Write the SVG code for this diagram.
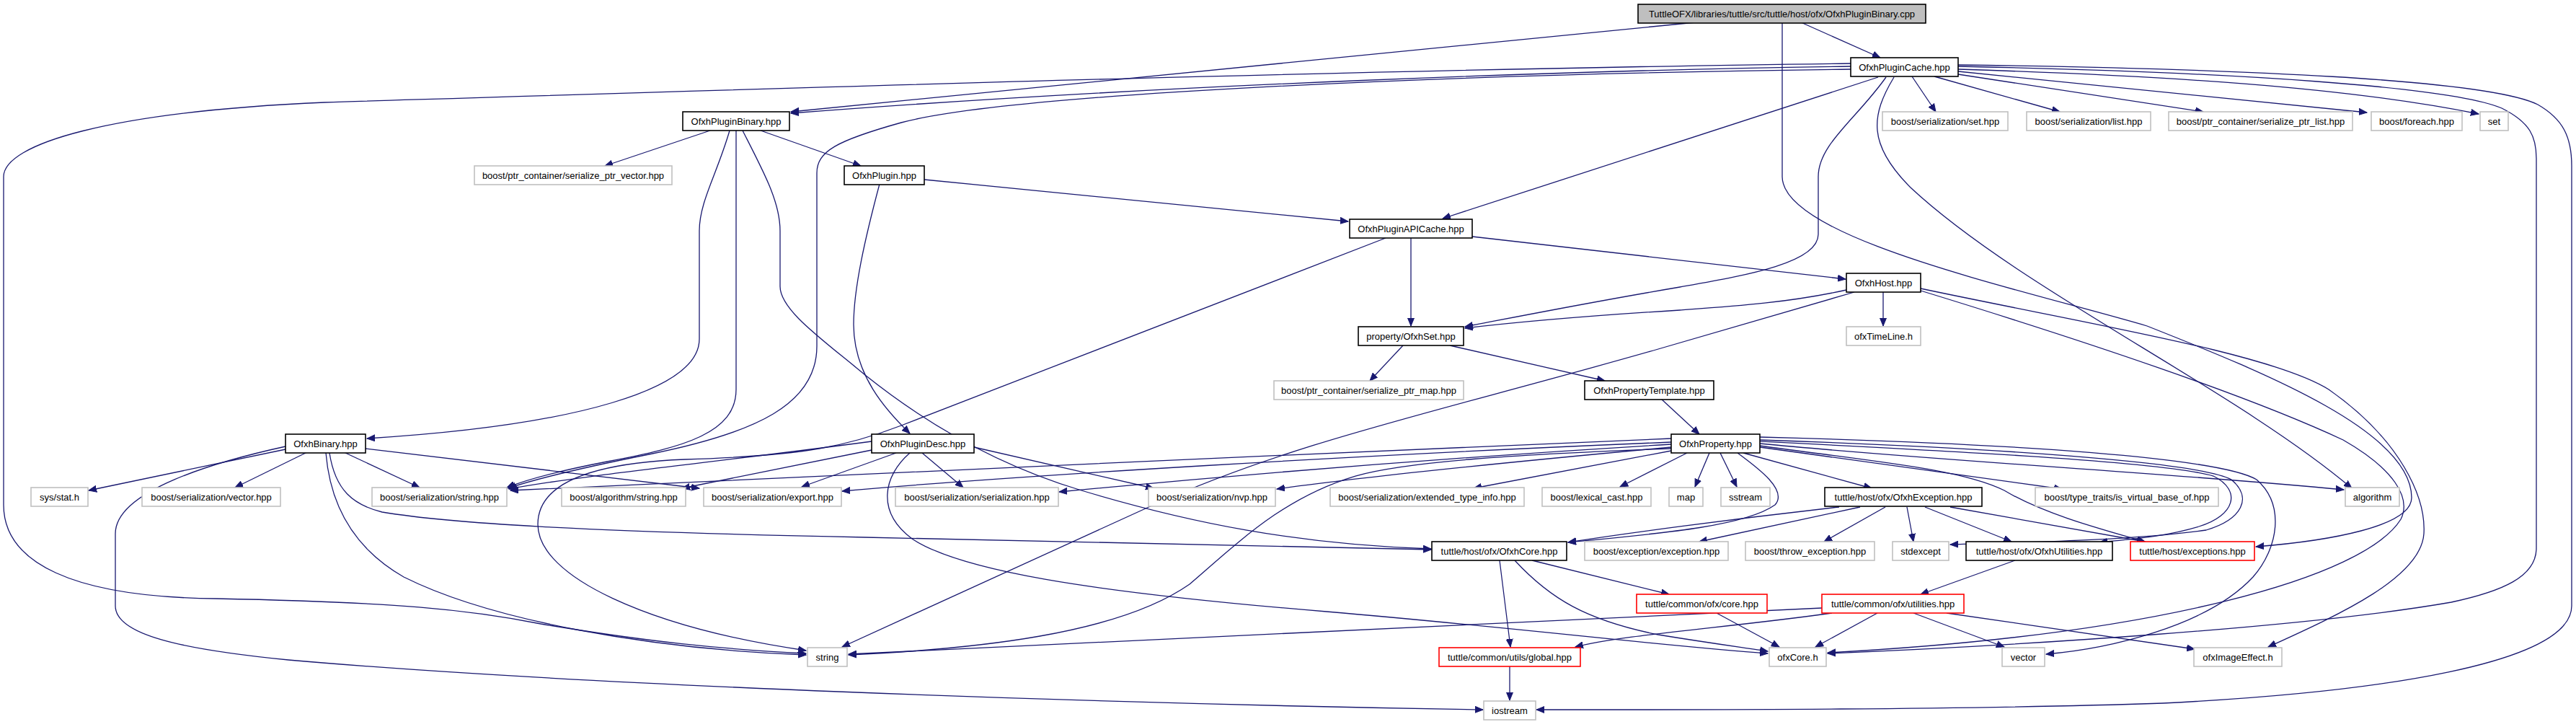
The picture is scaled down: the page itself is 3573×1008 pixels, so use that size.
<svg xmlns="http://www.w3.org/2000/svg" width="3573" height="1008" viewBox="0 0 3573 1008">
<style>
rect{stroke-width:1.6}
.k rect{fill:#fff;stroke:#000}
.g rect{fill:#fff;stroke:#c0c0c0}
.r rect{fill:#fff;stroke:#ff0000}
.root rect{fill:#bfbfbf;stroke:#000}
text{font-family:"Liberation Sans",Arial,sans-serif;font-size:13px;fill:#000;text-anchor:middle}
#edges path{fill:none;stroke:#191970;stroke-width:1.3;marker-end:url(#a)}
</style>
<defs>
<marker id="a" markerUnits="userSpaceOnUse" markerWidth="12" markerHeight="10" refX="11" refY="5" orient="auto">
<path d="M0,0.5 L11,5 L0,9.5 z" fill="#191970" stroke="#191970" stroke-width="1"/>
</marker>
</defs>
<rect width="3573" height="1008" fill="#fff"/>
<g id="edges">
<path d="M2352,31 L1097,155"/>
<path d="M2498,31 L2608,80"/>
<path d="M2472,31 L2472,245 C2472,330 2800,400 2978,452 C3150,520 3345,600 3345,690 C3345,730 3230,750 3129,758"/>
<path d="M2567,92 C2200,97 1600,118 1097,157"/>
<path d="M2567,88 C1900,96 1000,125 450,142 C150,155 5,200 5,245 L5,700 C5,780 100,828 300,830 C550,835 650,845 750,865 C900,890 1000,900 1118,906"/>
<path d="M2567,96 C2000,103 1400,130 1250,170 C1160,195 1133,210 1133,240 L1133,480 C1133,560 1050,600 900,630 C800,650 740,665 705,677"/>
<path d="M2605,107 L2001,303"/>
<path d="M2616,107 C2575,165 2522,200 2522,245 L2522,325 C2522,365 2420,382 2330,398 C2200,420 2100,440 2032,453"/>
<path d="M2652,106 L2685,155"/>
<path d="M2683,106 L2857,155"/>
<path d="M2716,103 L3056,155"/>
<path d="M2716,99 L3283,156"/>
<path d="M2716,96 C3000,105 3250,120 3438,158"/>
<path d="M2627,107 C2595,160 2590,200 2650,260 C2800,400 3100,540 3262,677"/>
<path d="M2716,92 C3100,100 3400,120 3470,150 C3510,170 3518,190 3518,220 L3518,760 C3518,800 3470,820 3400,835 C3200,870 2800,895 2535,906"/>
<path d="M2716,90 C3100,95 3450,110 3520,145 C3555,165 3567,190 3567,230 L3567,840 C3567,920 3300,960 3000,975 C2700,985 2300,984 2131,984"/>
<path d="M985,181 L839,230"/>
<path d="M1055,181 L1194,230"/>
<path d="M1012,181 C995,240 970,280 970,320 L970,470 C970,540 800,590 509,608"/>
<path d="M1021,181 L1021,540 C1021,600 950,620 842,640 C780,652 730,665 703,676"/>
<path d="M1030,181 C1060,240 1082,280 1082,320 L1082,397 C1082,430 1140,470 1200,520 C1300,600 1400,650 1500,680 C1650,725 1800,755 1985,761"/>
<path d="M1282,249 L1870,307"/>
<path d="M1220,255 C1200,330 1184,400 1184,450 C1184,520 1230,570 1262,601"/>
<path d="M1957,330 L1957,452"/>
<path d="M2042,328 L2560,387"/>
<path d="M1922,330 L1250,590 C1180,617 1120,632 950,637 C820,642 746,670 746,727 C746,800 900,870 1118,902"/>
<path d="M2561,402 C2480,420 2400,425 2330,430 C2200,438 2100,447 2032,455"/>
<path d="M2612,405 L2612,452"/>
<path d="M2572,405 L2300,484 C2000,570 1800,610 1600,700 C1400,790 1250,860 1168,897"/>
<path d="M2664,403 C2850,460 3100,540 3250,610 C3320,650 3345,690 3330,720 C3280,800 3000,880 2535,905"/>
<path d="M2664,400 C2900,450 3150,490 3230,540 C3330,610 3365,690 3362,740 C3358,800 3250,850 3146,897"/>
<path d="M1946,479 L1900,528"/>
<path d="M2011,479 L2226,528"/>
<path d="M2304,553 L2357,602"/>
<path d="M396,623 L123,680"/>
<path d="M426,627 L326,676"/>
<path d="M477,627 L582,676"/>
<path d="M507,622 L970,677"/>
<path d="M452,628 C458,700 490,760 560,800 C680,860 900,900 1118,908"/>
<path d="M457,628 C465,680 490,700 530,710 C620,725 800,737 1200,745 C1500,752 1800,758 1985,762"/>
<path d="M396,619 C300,640 160,680 160,740 L160,840 C160,880 250,900 400,915 C800,950 1500,975 2057,984"/>
<path d="M1209,612 C1000,640 800,660 706,678"/>
<path d="M1209,624 L946,677"/>
<path d="M1243,628 L1112,675"/>
<path d="M1279,628 L1336,676"/>
<path d="M1351,620 L1600,677"/>
<path d="M1262,628 C1225,660 1215,710 1265,747 C1330,790 1500,820 1840,848 C2100,870 2300,895 2452,906"/>
<path d="M2318,608 C1800,630 1000,665 708,680"/>
<path d="M2318,613 C1900,630 1400,660 1168,681"/>
<path d="M2318,616 C2000,635 1700,660 1469,682"/>
<path d="M2318,620 C2100,640 1900,660 1771,678"/>
<path d="M2318,622 C2100,630 1950,640 1880,660 C1780,690 1720,750 1650,810 C1550,880 1350,900 1177,908"/>
<path d="M2318,625 L2044,677"/>
<path d="M2340,628 L2247,675"/>
<path d="M2371,628 L2351,675"/>
<path d="M2386,628 L2409,675"/>
<path d="M2418,628 L2596,677"/>
<path d="M2441,620 L2860,678"/>
<path d="M2441,615 C2700,640 3000,655 3251,679"/>
<path d="M2410,628 C2440,650 2480,680 2462,700 C2420,730 2300,740 2175,752"/>
<path d="M2441,618 C2600,640 2720,650 2780,680 C2830,710 2900,730 2975,751"/>
<path d="M2441,612 C2700,625 3000,640 3070,660 C3110,680 3100,715 3050,730 C3000,745 2950,748 2912,752"/>
<path d="M2441,610 C2750,620 3050,640 3095,665 C3125,690 3110,720 3060,735 C2950,750 2800,752 2705,755"/>
<path d="M2441,606 C2800,615 3080,635 3130,665 C3170,700 3160,760 3125,800 C3060,870 2920,900 2838,907"/>
<path d="M2551,703 C2400,720 2250,740 2175,752"/>
<path d="M2580,703 L2357,751"/>
<path d="M2615,703 L2530,751"/>
<path d="M2645,703 L2654,751"/>
<path d="M2670,703 L2790,751"/>
<path d="M2705,703 L2975,751"/>
<path d="M2080,777 L2095,897"/>
<path d="M2101,777 C2150,830 2200,860 2300,880 C2380,893 2420,898 2452,903"/>
<path d="M2125,777 L2315,824"/>
<path d="M2381,850 L2468,897"/>
<path d="M2795,777 L2664,824"/>
<path d="M2527,843 C2000,870 1500,895 1177,907"/>
<path d="M2541,850 C2400,870 2250,880 2185,897"/>
<path d="M2604,850 L2518,897"/>
<path d="M2654,850 L2780,897"/>
<path d="M2700,850 L3044,900"/>
<path d="M2094,924 L2094,971"/>
</g>
<g id="n0" class="root"><rect x="2272" y="6" width="399" height="26"/><text x="2471.5" y="23.5">TuttleOFX/libraries/tuttle/src/tuttle/host/ofx/OfxhPluginBinary.cpp</text></g>
<g id="n1" class="k"><rect x="2567" y="80" width="149" height="26"/><text x="2641.5" y="97.5">OfxhPluginCache.hpp</text></g>
<g id="n2" class="k"><rect x="947" y="155" width="148" height="26"/><text x="1021" y="172.5">OfxhPluginBinary.hpp</text></g>
<g id="n3" class="g"><rect x="2611" y="155" width="174" height="26"/><text x="2698" y="172.5">boost/serialization/set.hpp</text></g>
<g id="n4" class="g"><rect x="2811" y="155" width="172" height="26"/><text x="2897" y="172.5">boost/serialization/list.hpp</text></g>
<g id="n5" class="g"><rect x="3008" y="155" width="255" height="26"/><text x="3135.5" y="172.5">boost/ptr_container/serialize_ptr_list.hpp</text></g>
<g id="n6" class="g"><rect x="3289" y="155" width="126" height="26"/><text x="3352" y="172.5">boost/foreach.hpp</text></g>
<g id="n7" class="g"><rect x="3440" y="155" width="39" height="26"/><text x="3459.5" y="172.5">set</text></g>
<g id="n8" class="g"><rect x="658" y="230" width="274" height="26"/><text x="795" y="247.5">boost/ptr_container/serialize_ptr_vector.hpp</text></g>
<g id="n9" class="k"><rect x="1171" y="230" width="111" height="26"/><text x="1226.5" y="247.5">OfxhPlugin.hpp</text></g>
<g id="n10" class="k"><rect x="1872" y="304" width="170" height="26"/><text x="1957" y="321.5">OfxhPluginAPICache.hpp</text></g>
<g id="n11" class="k"><rect x="2561" y="379" width="103" height="26"/><text x="2612.5" y="396.5">OfxhHost.hpp</text></g>
<g id="n12" class="k"><rect x="1884" y="453" width="146" height="26"/><text x="1957" y="470.5">property/OfxhSet.hpp</text></g>
<g id="n13" class="g"><rect x="2561" y="453" width="103" height="26"/><text x="2612.5" y="470.5">ofxTimeLine.h</text></g>
<g id="n14" class="g"><rect x="1767" y="528" width="263" height="26"/><text x="1898.5" y="545.5">boost/ptr_container/serialize_ptr_map.hpp</text></g>
<g id="n15" class="k"><rect x="2198" y="528" width="179" height="26"/><text x="2287.5" y="545.5">OfxhPropertyTemplate.hpp</text></g>
<g id="n16" class="k"><rect x="396" y="602" width="111" height="26"/><text x="451.5" y="619.5">OfxhBinary.hpp</text></g>
<g id="n17" class="k"><rect x="1209" y="602" width="142" height="26"/><text x="1280" y="619.5">OfxhPluginDesc.hpp</text></g>
<g id="n18" class="k"><rect x="2318" y="602" width="123" height="26"/><text x="2379.5" y="619.5">OfxhProperty.hpp</text></g>
<g id="n19" class="g"><rect x="43" y="676" width="79" height="26"/><text x="82.5" y="693.5">sys/stat.h</text></g>
<g id="n20" class="g"><rect x="197" y="676" width="192" height="26"/><text x="293" y="693.5">boost/serialization/vector.hpp</text></g>
<g id="n21" class="g"><rect x="516" y="676" width="187" height="26"/><text x="609.5" y="693.5">boost/serialization/string.hpp</text></g>
<g id="n22" class="g"><rect x="779" y="676" width="172" height="26"/><text x="865" y="693.5">boost/algorithm/string.hpp</text></g>
<g id="n23" class="g"><rect x="976" y="676" width="191" height="26"/><text x="1071.5" y="693.5">boost/serialization/export.hpp</text></g>
<g id="n24" class="g"><rect x="1242" y="676" width="226" height="26"/><text x="1355" y="693.5">boost/serialization/serialization.hpp</text></g>
<g id="n25" class="g"><rect x="1593" y="676" width="176" height="26"/><text x="1681" y="693.5">boost/serialization/nvp.hpp</text></g>
<g id="n26" class="g"><rect x="1845" y="676" width="269" height="26"/><text x="1979.5" y="693.5">boost/serialization/extended_type_info.hpp</text></g>
<g id="n27" class="g"><rect x="2139" y="676" width="151" height="26"/><text x="2214.5" y="693.5">boost/lexical_cast.hpp</text></g>
<g id="n28" class="g"><rect x="2315" y="676" width="47" height="26"/><text x="2338.5" y="693.5">map</text></g>
<g id="n29" class="g"><rect x="2387" y="676" width="68" height="26"/><text x="2421" y="693.5">sstream</text></g>
<g id="n30" class="k"><rect x="2531" y="676" width="218" height="26"/><text x="2640" y="693.5">tuttle/host/ofx/OfxhException.hpp</text></g>
<g id="n31" class="g"><rect x="2823" y="676" width="254" height="26"/><text x="2950" y="693.5">boost/type_traits/is_virtual_base_of.hpp</text></g>
<g id="n32" class="g"><rect x="3253" y="676" width="75" height="26"/><text x="3290.5" y="693.5">algorithm</text></g>
<g id="n33" class="k"><rect x="1986" y="751" width="187" height="26"/><text x="2079.5" y="768.5">tuttle/host/ofx/OfxhCore.hpp</text></g>
<g id="n34" class="g"><rect x="2198" y="751" width="199" height="26"/><text x="2297.5" y="768.5">boost/exception/exception.hpp</text></g>
<g id="n35" class="g"><rect x="2421" y="751" width="179" height="26"/><text x="2510.5" y="768.5">boost/throw_exception.hpp</text></g>
<g id="n36" class="g"><rect x="2625" y="751" width="78" height="26"/><text x="2664" y="768.5">stdexcept</text></g>
<g id="n37" class="k"><rect x="2727" y="751" width="203" height="26"/><text x="2828.5" y="768.5">tuttle/host/ofx/OfxhUtilities.hpp</text></g>
<g id="n38" class="r"><rect x="2955" y="751" width="172" height="26"/><text x="3041" y="768.5">tuttle/host/exceptions.hpp</text></g>
<g id="n39" class="r"><rect x="2270" y="824" width="181" height="26"/><text x="2360.5" y="841.5">tuttle/common/ofx/core.hpp</text></g>
<g id="n40" class="r"><rect x="2527" y="824" width="197" height="26"/><text x="2625.5" y="841.5">tuttle/common/ofx/utilities.hpp</text></g>
<g id="n41" class="g"><rect x="1120" y="898" width="55" height="26"/><text x="1147.5" y="915.5">string</text></g>
<g id="n42" class="r"><rect x="1996" y="898" width="196" height="26"/><text x="2094" y="915.5">tuttle/common/utils/global.hpp</text></g>
<g id="n43" class="g"><rect x="2454" y="898" width="79" height="26"/><text x="2493.5" y="915.5">ofxCore.h</text></g>
<g id="n44" class="g"><rect x="2777" y="898" width="59" height="26"/><text x="2806.5" y="915.5">vector</text></g>
<g id="n45" class="g"><rect x="3043" y="898" width="122" height="26"/><text x="3104" y="915.5">ofxImageEffect.h</text></g>
<g id="n46" class="g"><rect x="2058" y="972" width="72" height="26"/><text x="2094" y="989.5">iostream</text></g>
</svg>
